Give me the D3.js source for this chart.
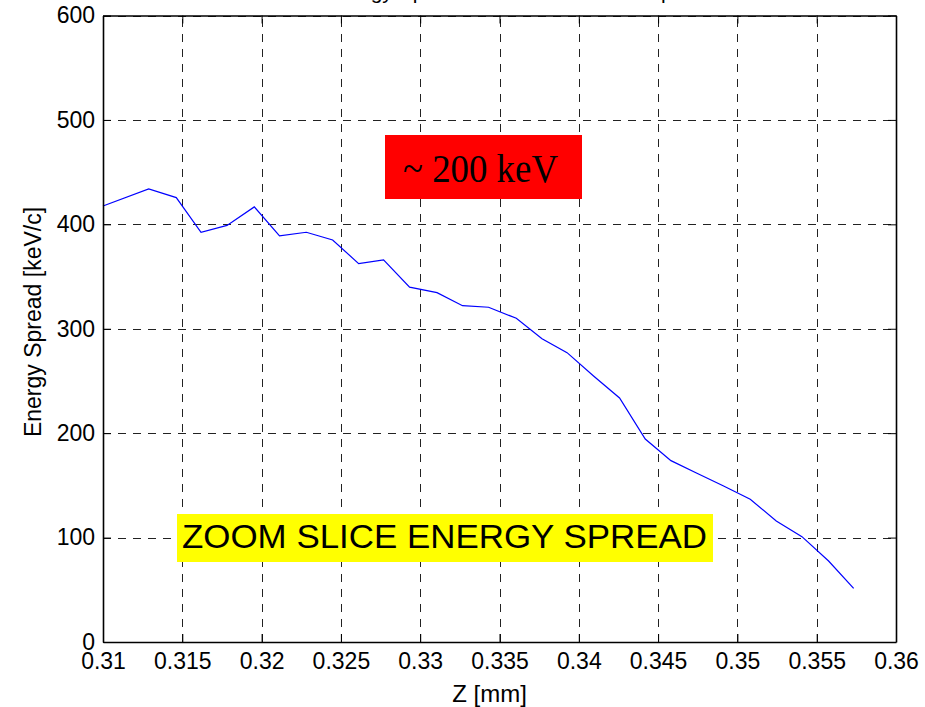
<!DOCTYPE html>
<html>
<head>
<meta charset="utf-8">
<script src="https://cdn.jsdelivr.net/npm/d3@7"></script>
<style>
  html, body { margin: 0; padding: 0; background: #fff; }
  svg { display: block; }
  text { font-family: Arial, "Liberation Sans", Helvetica, sans-serif; fill: #000; }
</style>
</head>
<body>
<svg id="chart" width="925" height="707"></svg>
<script>
// Longitudinal position of each slice [mm]
const zPos = [0.3100, 0.31288, 0.31462, 0.31618, 0.31782, 0.31954, 0.32113, 0.32282,
  0.32448, 0.32612, 0.32769, 0.32933, 0.33106, 0.33267, 0.33431, 0.33606, 0.33768,
  0.33926, 0.34093, 0.34257, 0.34419, 0.34581, 0.34745, 0.34913, 0.35081, 0.35245,
  0.35407, 0.35575, 0.35733];
// Slice energy spread [keV/c]
const spread = [417.6, 434, 425.6, 392.4, 399, 416.7, 388.9, 392.4, 385, 362.4, 365.9,
  339.8, 334.6, 322.1, 320.6, 310, 290.5, 277.1, 254.8, 233.7, 194.4, 173.7, 161.6,
  149.4, 136.7, 115.9, 100.9, 77.6, 51.4];

const xTicks = [0.31, 0.315, 0.32, 0.325, 0.33, 0.335, 0.34, 0.345, 0.35, 0.355, 0.36];
const xTickLabels = ["0.31", "0.315", "0.32", "0.325", "0.33", "0.335", "0.34", "0.345", "0.35", "0.355", "0.36"];
const yTicks = [0, 100, 200, 300, 400, 500, 600];
const yTickLabels = ["0", "100", "200", "300", "400", "500", "600"];

const titleText = "Energy Spread in the Slice at the Top";
const xLabel = "Z [mm]";
const yLabel = "Energy Spread [keV/c]";
const noteRed = "~ 200 keV";
const noteYellow = "ZOOM SLICE ENERGY SPREAD";

const svg = d3.select("#chart");
const L = 103, R = 896, T = 15.5, B = 642;

const x = d3.scaleLinear().domain([0.31, 0.36]).range([L, R]);
const y = d3.scaleLinear().domain([0, 600]).range([B, T]);

// dashed grid
const grid = svg.append("g").attr("stroke", "#222").attr("stroke-width", 1)
  .attr("stroke-dasharray", "8,7").attr("fill", "none");
grid.selectAll("line.v").data(xTicks.slice(1, -1)).join("line")
  .attr("x1", d => Math.round(x(d)) + 0.5).attr("x2", d => Math.round(x(d)) + 0.5)
  .attr("y1", B).attr("y2", T);
grid.selectAll("line.h").data(yTicks.slice(1)).join("line")
  .attr("y1", d => Math.round(y(d)) + 0.5).attr("y2", d => Math.round(y(d)) + 0.5)
  .attr("x1", L).attr("x2", R);

// annotation boxes (drawn under the data line)
function box(bx, by, w, h, color) {
  svg.append("rect").attr("x", bx).attr("y", by).attr("width", w).attr("height", h).attr("fill", color);
}
box(385, 135, 197, 64, "#ff0000");
svg.append("text").attr("x", 480.5).attr("y", 182).attr("text-anchor", "middle")
  .style("font-family", "'Liberation Serif', 'Times New Roman', serif")
  .style("font-size", "41px")
  .attr("textLength", 155).attr("lengthAdjust", "spacingAndGlyphs")
  .text(noteRed);

box(177, 514, 536, 48, "#ffff00");
svg.append("text").attr("x", 182).attr("y", 548.3)
  .style("font-size", "33px")
  .attr("textLength", 525).attr("lengthAdjust", "spacingAndGlyphs")
  .text(noteYellow);

// data line
const line = d3.line().x((d, i) => x(zPos[i])).y(d => y(d));
svg.append("path").datum(spread)
  .attr("d", line).attr("fill", "none").attr("stroke", "#0000ff").attr("stroke-width", 1.2);

// axes: bottom/left with inward ticks, plus mirrored top/right
const tickLen = 8;
const xAxisB = d3.axisBottom(x).tickValues(xTicks).tickSizeInner(-tickLen).tickSizeOuter(0)
  .tickPadding(11).tickFormat((d, i) => xTickLabels[i]);
const yAxisL = d3.axisLeft(y).tickValues(yTicks).tickSizeInner(-tickLen).tickSizeOuter(0)
  .tickPadding(8).tickFormat((d, i) => yTickLabels[i]);
const xAxisT = d3.axisTop(x).tickValues(xTicks).tickSizeInner(-tickLen).tickSizeOuter(0).tickFormat("");
const yAxisR = d3.axisRight(y).tickValues(yTicks).tickSizeInner(-tickLen).tickSizeOuter(0).tickFormat("");

function styleAxis(g) {
  g.select(".domain").attr("stroke", "#000").attr("stroke-width", 1.6);
  g.selectAll(".tick line").attr("stroke", "#000").attr("stroke-width", 1);
  g.selectAll(".tick text").style("font-size", "23px").style("font-family", "Arial, 'Liberation Sans', sans-serif").attr("fill", "#000");
}
svg.append("g").attr("transform", `translate(0,${B})`).call(xAxisB).call(styleAxis)
  .selectAll(".tick text").attr("dy", "0.71em");
svg.append("g").attr("transform", `translate(${L},0)`).call(yAxisL).call(styleAxis);
svg.append("g").attr("transform", `translate(0,${T})`).call(xAxisT).call(styleAxis);
svg.append("g").attr("transform", `translate(${R},0)`).call(yAxisR).call(styleAxis);

// titles
svg.append("text").attr("x", (L + R) / 2).attr("y", -1).attr("text-anchor", "middle")
  .style("font-size", "21px").text(titleText);
svg.append("text").attr("x", 489.5).attr("y", 702).attr("text-anchor", "middle")
  .style("font-size", "24px").text(xLabel);
svg.append("text").attr("transform", "translate(41,322) rotate(-90)").attr("text-anchor", "middle")
  .style("font-size", "23px").text(yLabel);
</script>
</body>
</html>
